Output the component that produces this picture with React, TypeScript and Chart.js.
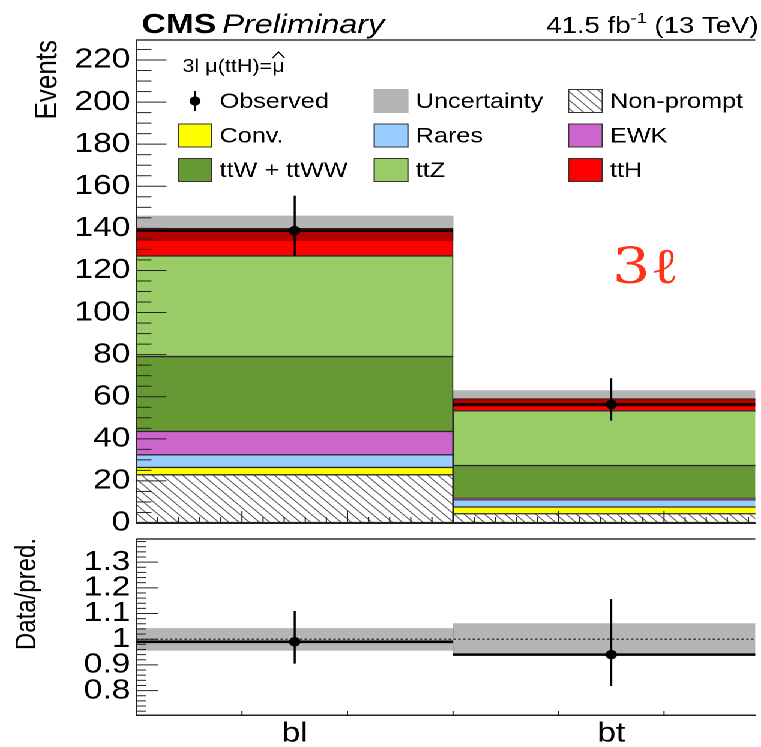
import React, { useEffect, useRef } from "react";
import { Chart, registerables } from "chart.js";
Chart.register(...registerables);

// ---------------- data ----------------
const categories = ["bl", "bt"];
const nonPrompt = [22.9, 4.4];
const conv = [3.5, 3.2];
const rares = [6.0, 3.4];
const ewk = [11.1, 0.7];
const ttWttWW = [35.6, 15.6];
const ttZ = [47.8, 26.0];
const ttH = [13.1, 5.8];
const predUnc = [5.9, 3.8];
const observed = [138.9, 56.3];
const observedLow = [127.0, 48.7];
const observedHigh = [155.5, 68.8];
const ratio = [0.99, 0.94];
const ratioLow = [0.905, 0.818];
const ratioHigh = [1.11, 1.156];
const ratioBandLow = [0.957, 0.938];
const ratioBandHigh = [1.042, 1.061];
const yTicksMain = [0, 20, 40, 60, 80, 100, 120, 140, 160, 180, 200, 220];
const yTicksRatio = [0.8, 0.9, 1, 1.1, 1.2, 1.3];

const componentLabels = ["Non-prompt", "Conv.", "Rares", "EWK", "ttW + ttWW", "ttZ", "ttH"];
const componentValues = [nonPrompt, conv, rares, ewk, ttWttWW, ttZ, ttH];
const componentColors = ["hatch", "#ffff00", "#99ccff", "#cc66cc", "#669933", "#99cc66", "#ff0000"];

// ---------------- layout ----------------
const W = 634; // unstretched width
const SX = 761 / W; // horizontal stretch of the figure
const FONT = "'Liberation Sans', Arial, Helvetica, sans-serif";
const X_MAX = 1.955; // visible part of the 2 bins
const Y_MAX = 229.5;
const R_MIN = 0.705;
const R_MAX = 1.39;
const AXIS_LEFT = 136.5 / SX;
const TICK_FONT = 28;

function makeHatch(ctx: CanvasRenderingContext2D) {
  const T = 17;
  const c = document.createElement("canvas");
  c.width = T;
  c.height = T;
  const g = c.getContext("2d")!;
  g.fillStyle = "#fff";
  g.fillRect(0, 0, T, T);
  g.strokeStyle = "#555";
  g.lineWidth = 1.8;
  g.beginPath();
  for (const off of [-T, 0, T]) {
    g.moveTo(off - 2, -2);
    g.lineTo(off + T + 2, T + 2);
  }
  g.stroke();
  const p = ctx.createPattern(c, "repeat")!;
  try {
    p.setTransform(new DOMMatrix([0.5, 0, 0, 0.5, 0, 0]));
  } catch (e) {}
  return p;
}

const errorBarPlugin = {
  id: "errbars",
  afterDatasetsDraw(chart: any) {
    const { ctx } = chart;
    const ys = chart.scales.y;
    chart.data.datasets.forEach((ds: any, di: number) => {
      if (!ds.errLow) return;
      const meta = chart.getDatasetMeta(di);
      ctx.save();
      ctx.strokeStyle = "#000";
      ctx.lineWidth = 1.7;
      meta.data.forEach((pt: any, i: number) => {
        ctx.beginPath();
        ctx.moveTo(pt.x, ys.getPixelForValue(ds.errLow[i]));
        ctx.lineTo(pt.x, ys.getPixelForValue(ds.errHigh[i]));
        ctx.stroke();
      });
      ctx.restore();
    });
  },
};

function drawFrameTicks(chart: any, yStep: number, yMajorEvery: number, yMajLen: number, yMinLen: number, xMajLen: number, xMinLen: number, xMinorPerThird: number) {
  const { ctx, chartArea: a } = chart;
  const ys = chart.scales.y;
  const xs = chart.scales.x;
  ctx.save();
  ctx.strokeStyle = "#222";
  ctx.lineWidth = 1;
  const k0 = Math.ceil(ys.min / yStep - 1e-6);
  const k1 = Math.floor(ys.max / yStep + 1e-6);
  for (let k = k0; k <= k1; k++) {
    const v = k * yStep;
    const py = ys.getPixelForValue(v);
    if (py < a.top + 0.5 || py > a.bottom - 0.5) continue;
    const len = k % yMajorEvery === 0 ? yMajLen : yMinLen;
    ctx.beginPath();
    ctx.moveTo(a.left, py);
    ctx.lineTo(a.left + len, py);
    ctx.stroke();
  }
  const n = 3 * xMinorPerThird;
  for (let k = 1; k / n <= xs.max; k++) {
    const px = xs.getPixelForValue(k / n);
    const major = k % xMinorPerThird === 0;
    const len = major ? xMajLen : xMinLen;
    if (len <= 0) continue;
    ctx.beginPath();
    ctx.moveTo(px, a.bottom);
    ctx.lineTo(px, a.bottom - len);
    ctx.stroke();
  }
  ctx.strokeStyle = "#333";
  ctx.lineWidth = 1.5;
  ctx.beginPath();
  ctx.moveTo(a.left, a.top);
  ctx.lineTo(a.right, a.top);
  ctx.stroke();
  ctx.restore();
}

function legendAndText(chart: any, hatch: CanvasPattern) {
  const { ctx } = chart;
  ctx.save();
  ctx.fillStyle = "#000";
  ctx.textBaseline = "alphabetic";
  ctx.textAlign = "left";
  ctx.font = `bold 28px ${FONT}`;
  ctx.fillText("CMS", 118, 33);
  const wCMS = ctx.measureText("CMS").width;
  ctx.font = `italic 27px ${FONT}`;
  ctx.fillText("Preliminary", 118 + wCMS + 5, 33);
  const p1 = "41.5 fb";
  const p2 = "-1";
  const p3 = " (13 TeV)";
  ctx.font = `23px ${FONT}`;
  const w1 = ctx.measureText(p1).width;
  const w3 = ctx.measureText(p3).width;
  ctx.font = `15px ${FONT}`;
  const w2 = ctx.measureText(p2).width;
  const xr = 632;
  const x = xr - w1 - w2 - w3;
  ctx.font = `23px ${FONT}`;
  ctx.fillText(p1, x, 33);
  ctx.font = `15px ${FONT}`;
  ctx.fillText(p2, x + w1, 23);
  ctx.font = `23px ${FONT}`;
  ctx.fillText(p3, x + w1 + w2, 33);

  ctx.save();
  ctx.translate(39.6, 40);
  ctx.rotate(-Math.PI / 2);
  ctx.font = `26px ${FONT}`;
  ctx.textAlign = "right";
  ctx.textBaseline = "middle";
  ctx.fillText("Events", 0, 0);
  ctx.restore();

  // legend header with hat over the last mu
  ctx.font = `18px ${FONT}`;
  ctx.textBaseline = "middle";
  ctx.textAlign = "left";
  const head = "3l μ(ttH)=μ";
  ctx.fillText(head, 152, 67);
  const wHead = ctx.measureText(head).width;
  const wMu = ctx.measureText("μ").width;
  const hx = 152 + wHead - wMu / 2;
  ctx.strokeStyle = "#000";
  ctx.lineWidth = 1.1;
  ctx.beginPath();
  ctx.moveTo(hx - 5, 58);
  ctx.lineTo(hx, 52);
  ctx.lineTo(hx + 5, 58);
  ctx.stroke();

  const cols = [148, 311.3, 473.2];
  const rows = [101, 135.5, 170];
  const bw = 29;
  const bh = 24;
  type Entry = { label: string; kind: string; color?: any };
  const entries: Entry[] = [
    { label: "Observed", kind: "obs" },
    { label: "Uncertainty", kind: "unc" },
    { label: componentLabels[0], kind: "box", color: hatch },
  ];
  for (let i = 1; i < componentLabels.length; i++) {
    entries.push({ label: componentLabels[i], kind: "box", color: componentColors[i] });
  }
  entries.forEach((e, idx) => {
    const cx = cols[idx % 3];
    const cy = rows[Math.floor(idx / 3)];
    if (e.kind === "obs") {
      const mx = cx + bw / 2;
      ctx.strokeStyle = "#000";
      ctx.lineWidth = 1.7;
      ctx.beginPath();
      ctx.moveTo(mx, cy - 10);
      ctx.lineTo(mx, cy + 10);
      ctx.stroke();
      ctx.fillStyle = "#000";
      ctx.beginPath();
      ctx.arc(mx, cy, 4.6, 0, Math.PI * 2);
      ctx.fill();
    } else if (e.kind === "unc") {
      ctx.fillStyle = "#b4b4b4";
      ctx.fillRect(cx, cy - bh / 2, bw, bh);
    } else {
      ctx.fillStyle = e.color;
      ctx.fillRect(cx, cy - bh / 2, bw, bh);
      ctx.strokeStyle = "#333";
      ctx.lineWidth = 1;
      ctx.strokeRect(cx + 0.5, cy - bh / 2 + 0.5, bw - 1, bh - 1);
    }
    ctx.fillStyle = "#000";
    ctx.font = `21px ${FONT}`;
    ctx.textAlign = "left";
    ctx.textBaseline = "middle";
    ctx.fillText(e.label, cx + 35, cy + 1);
  });

  ctx.fillStyle = "#ff3218";
  ctx.font = `50px 'DejaVu Serif', serif`;
  ctx.textBaseline = "alphabetic";
  ctx.fillText("3ℓ", 510, 283);
  ctx.restore();
}

function mainConfig(canvas: HTMLCanvasElement): any {
  const ctx = canvas.getContext("2d")!;
  const hatch = makeHatch(ctx);
  const cum = categories.map(() => 0);
  const datasets: any[] = [];
  componentValues.forEach((vals, ci) => {
    datasets.push({
      type: "bar",
      label: componentLabels[ci],
      data: categories.map((_, i) => {
        const lo = cum[i];
        cum[i] += vals[i];
        return { x: i + 0.5, y: [lo, cum[i]] };
      }),
      backgroundColor: componentColors[ci] === "hatch" ? hatch : componentColors[ci],
      borderColor: "#2a2a2a",
      borderWidth: 1,
      borderSkipped: false,
      grouped: false,
      categoryPercentage: 1,
      barPercentage: 1,
      order: 10,
    });
  });
  const total = cum.slice();
  datasets.push({
    type: "bar",
    label: "Uncertainty",
    data: categories.map((_, i) => ({ x: i + 0.5, y: [total[i] - predUnc[i], total[i] + predUnc[i]] })),
    backgroundColor: "rgba(0,0,0,0.29)",
    borderWidth: 0,
    grouped: false,
    categoryPercentage: 1,
    barPercentage: 1,
    order: 5,
  });
  categories.forEach((_, i) => {
    datasets.push({
      type: "line",
      label: "obs-line-" + i,
      data: [
        { x: i, y: observed[i] },
        { x: i + 1, y: observed[i] },
      ],
      borderColor: "#000",
      borderWidth: 2.4,
      pointRadius: 0,
      fill: false,
      order: 3,
    });
  });
  datasets.push({
    type: "scatter",
    label: "Observed",
    data: categories.map((_, i) => ({ x: i + 0.5, y: observed[i] })),
    backgroundColor: "#000",
    borderWidth: 0,
    pointRadius: 4.8,
    errLow: observedLow,
    errHigh: observedHigh,
    order: 1,
  });

  return {
    type: "bar",
    data: { datasets },
    options: {
      animation: false,
      responsive: false,
      devicePixelRatio: 2,
      events: [],
      layout: { padding: { top: 40, bottom: 8, left: 0, right: 0 } },
      plugins: { legend: { display: false }, tooltip: { enabled: false }, title: { display: false } },
      scales: {
        x: {
          type: "linear",
          offset: false,
          min: 0,
          max: X_MAX,
          ticks: { display: false },
          grid: { display: true, drawOnChartArea: false, drawTicks: false, offset: false },
          border: { display: true, color: "#222", width: 1.5 },
          afterBuildTicks: (s: any) => {
            s.ticks = categories.map((_, i) => ({ value: i + 0.5 }));
          },
          afterFit: (s: any) => {
            s.height = 0;
            s.paddingLeft = 0;
            s.paddingRight = 0;
          },
        },
        y: {
          type: "linear",
          min: 0,
          max: Y_MAX,
          ticks: { color: "#000", font: { size: TICK_FONT, family: FONT }, padding: 5, autoSkip: false },
          grid: { display: true, drawOnChartArea: false, drawTicks: false },
          border: { display: true, color: "#222", width: 1.5 },
          afterBuildTicks: (s: any) => {
            s.ticks = yTicksMain.map((v) => ({ value: v }));
          },
          afterFit: (s: any) => {
            s.width = AXIS_LEFT;
            s.paddingTop = 0;
            s.paddingBottom = 0;
          },
        },
      },
    },
    plugins: [
      errorBarPlugin,
      {
        id: "mainDecor",
        afterDraw(chart: any) {
          drawFrameTicks(chart, 5, 4, 25, 12.5, 12, 6, 5);
          legendAndText(chart, hatch);
        },
      },
    ],
  };
}

function ratioConfig(): any {
  const datasets: any[] = [];
  datasets.push({
    type: "bar",
    label: "band",
    data: categories.map((_, i) => ({ x: i + 0.5, y: [ratioBandLow[i], ratioBandHigh[i]] })),
    backgroundColor: "rgba(0,0,0,0.29)",
    borderWidth: 0,
    grouped: false,
    categoryPercentage: 1,
    barPercentage: 1,
    order: 10,
  });
  datasets.push({
    type: "line",
    label: "unity",
    data: [
      { x: 0, y: 1 },
      { x: categories.length, y: 1 },
    ],
    borderColor: "#222",
    borderWidth: 1.2,
    borderDash: [2, 2],
    pointRadius: 0,
    fill: false,
    order: 6,
  });
  categories.forEach((_, i) => {
    datasets.push({
      type: "line",
      label: "ratio-line-" + i,
      data: [
        { x: i, y: ratio[i] },
        { x: i + 1, y: ratio[i] },
      ],
      borderColor: "#000",
      borderWidth: 2.6,
      pointRadius: 0,
      fill: false,
      order: 3,
    });
  });
  datasets.push({
    type: "scatter",
    label: "ratio",
    data: categories.map((_, i) => ({ x: i + 0.5, y: ratio[i] })),
    backgroundColor: "#000",
    borderWidth: 0,
    pointRadius: 4.8,
    errLow: ratioLow,
    errHigh: ratioHigh,
    order: 1,
  });

  return {
    type: "bar",
    data: { datasets },
    options: {
      animation: false,
      responsive: false,
      devicePixelRatio: 2,
      events: [],
      layout: { padding: { top: 8, bottom: 0, left: 0, right: 0 } },
      plugins: { legend: { display: false }, tooltip: { enabled: false }, title: { display: false } },
      scales: {
        x: {
          type: "linear",
          offset: false,
          min: 0,
          max: X_MAX,
          ticks: {
            color: "#000",
            font: { size: TICK_FONT, family: FONT },
            padding: 2,
            autoSkip: false,
            maxRotation: 0,
            callback: (v: number) => categories[Math.floor(v)] ?? "",
          },
          grid: { display: true, drawOnChartArea: false, drawTicks: false, offset: false },
          border: { display: true, color: "#222", width: 1.5 },
          afterBuildTicks: (s: any) => {
            s.ticks = categories.map((_, i) => ({ value: i + 0.5 }));
          },
          afterFit: (s: any) => {
            s.height = 32;
            s.paddingLeft = 0;
            s.paddingRight = 0;
          },
        },
        y: {
          type: "linear",
          min: R_MIN,
          max: R_MAX,
          ticks: {
            color: "#000",
            font: { size: TICK_FONT, family: FONT },
            padding: 5,
            autoSkip: false,
            callback: (v: number) => (Math.abs(v - 1) < 1e-9 ? "1" : v.toFixed(1)),
          },
          grid: { display: true, drawOnChartArea: false, drawTicks: false },
          border: { display: true, color: "#222", width: 1.5 },
          afterBuildTicks: (s: any) => {
            s.ticks = yTicksRatio.map((v) => ({ value: v }));
          },
          afterFit: (s: any) => {
            s.width = AXIS_LEFT;
            s.paddingTop = 0;
            s.paddingBottom = 0;
          },
        },
      },
    },
    plugins: [
      errorBarPlugin,
      {
        id: "ratioDecor",
        afterDraw(chart: any) {
          drawFrameTicks(chart, 0.02, 5, 18, 8, 4, 0, 5);
          const { ctx } = chart;
          ctx.save();
          ctx.fillStyle = "#000";
          ctx.translate(22.9, 7);
          ctx.rotate(-Math.PI / 2);
          ctx.font = `24px ${FONT}`;
          ctx.textAlign = "right";
          ctx.textBaseline = "middle";
          ctx.fillText("Data/pred.", 0, 0);
          ctx.restore();
        },
      },
    ],
  };
}

export default function App() {
  const mainRef = useRef<HTMLCanvasElement>(null);
  const ratioRef = useRef<HTMLCanvasElement>(null);
  useEffect(() => {
    const c1 = new Chart(mainRef.current!, mainConfig(mainRef.current!));
    const c2 = new Chart(ratioRef.current!, ratioConfig());
    return () => {
      c1.destroy();
      c2.destroy();
    };
  }, []);
  return (
    <div
      style={{
        position: "fixed",
        left: 0,
        top: 0,
        width: W,
        height: 747,
        transform: `scaleX(${SX})`,
        transformOrigin: "0 0",
        background: "#fff",
        overflow: "hidden",
      }}
    >
      <canvas ref={mainRef} width={W} height={531} style={{ position: "absolute", left: 0, top: 0 }} />
      <canvas ref={ratioRef} width={W} height={216} style={{ position: "absolute", left: 0, top: 531 }} />
    </div>
  );
}
